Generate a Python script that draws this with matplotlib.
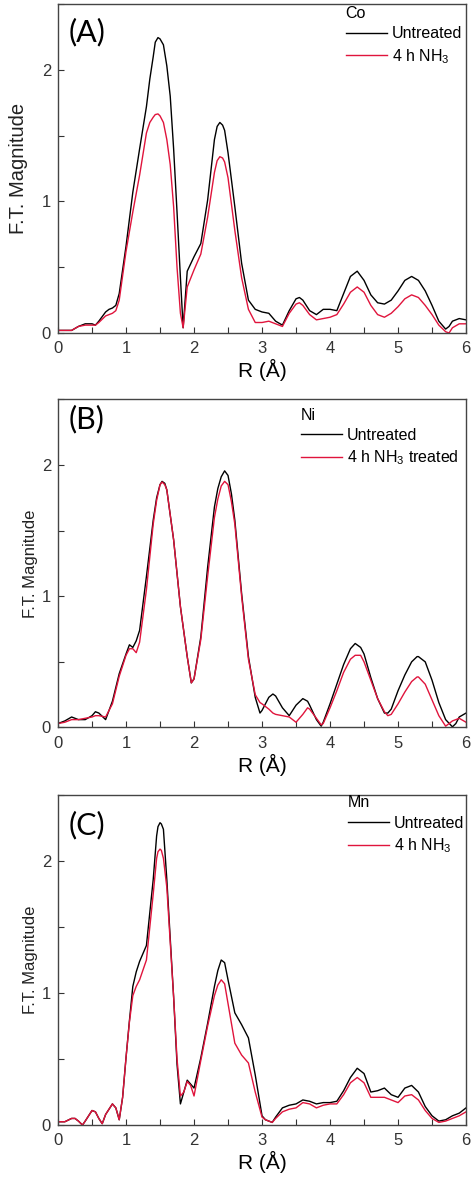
import matplotlib
matplotlib.use("Agg")
import matplotlib.pyplot as plt
from matplotlib.ticker import MultipleLocator

plt.rcParams['font.family'] = ['Liberation Sans', 'DejaVu Sans']
plt.rcParams['mathtext.default'] = 'regular'

# (A) Co
r_co = [0, 0.2, 0.3, 0.4, 0.5, 0.55, 0.6, 0.7, 0.75, 0.8, 0.85, 0.9, 1.0, 1.1, 1.2, 1.3, 1.35,
        1.4, 1.43, 1.47, 1.5, 1.55, 1.6, 1.65, 1.7, 1.75, 1.8, 1.84, 1.9, 2.0, 2.1, 2.2, 2.3,
        2.34, 2.38, 2.42, 2.45, 2.5, 2.6, 2.7, 2.8, 2.9, 3.0, 3.1, 3.2, 3.3, 3.4, 3.5, 3.55,
        3.6, 3.7, 3.8, 3.9, 4.0, 4.1, 4.2, 4.3, 4.4, 4.5, 4.6, 4.7, 4.8, 4.9, 5.0, 5.1, 5.2,
        5.3, 5.4, 5.5, 5.6, 5.7, 5.75, 5.8, 5.9, 6.0]
co_untreated = [0.02, 0.02, 0.05, 0.07, 0.07, 0.06, 0.09, 0.16, 0.18, 0.19, 0.21, 0.30, 0.66,
                1.07, 1.40, 1.72, 1.93, 2.10, 2.21, 2.245, 2.235, 2.19, 2.03, 1.80, 1.40, 0.92,
                0.42, 0.04, 0.47, 0.58, 0.68, 1.01, 1.47, 1.57, 1.60, 1.58, 1.54, 1.37, 0.96,
                0.53, 0.25, 0.18, 0.16, 0.15, 0.09, 0.06, 0.17, 0.26, 0.27, 0.25, 0.17, 0.14,
                0.18, 0.18, 0.17, 0.30, 0.43, 0.47, 0.40, 0.29, 0.23, 0.22, 0.25, 0.32, 0.40,
                0.43, 0.40, 0.32, 0.21, 0.09, 0.03, 0.05, 0.09, 0.11, 0.10]
co_nh3 = [0.02, 0.02, 0.05, 0.06, 0.06, 0.06, 0.08, 0.13, 0.14, 0.15, 0.17, 0.25, 0.62, 0.92,
          1.20, 1.52, 1.60, 1.64, 1.66, 1.665, 1.65, 1.60, 1.47, 1.28, 0.96, 0.50, 0.15, 0.04,
          0.35, 0.48, 0.60, 0.88, 1.22, 1.31, 1.34, 1.33, 1.30, 1.18, 0.78, 0.42, 0.18, 0.08,
          0.08, 0.09, 0.07, 0.05, 0.15, 0.22, 0.23, 0.21, 0.14, 0.10, 0.11, 0.12, 0.14, 0.22,
          0.31, 0.35, 0.31, 0.21, 0.14, 0.12, 0.15, 0.20, 0.26, 0.29, 0.27, 0.21, 0.14, 0.06,
          0.01, 0.00, 0.04, 0.07, 0.07]

# (B) Ni
r_ni = [0, 0.1, 0.2, 0.3, 0.4, 0.5, 0.55, 0.6, 0.7, 0.8, 0.9, 1.0, 1.05, 1.1, 1.15, 1.2, 1.3,
        1.4, 1.45, 1.5, 1.53, 1.57, 1.6, 1.7, 1.8, 1.9, 1.96, 2.0, 2.1, 2.2, 2.3, 2.35, 2.4,
        2.45, 2.5, 2.55, 2.6, 2.7, 2.8, 2.9, 2.97, 3.0, 3.1, 3.16, 3.2, 3.3, 3.4, 3.5, 3.6,
        3.67, 3.7, 3.8, 3.87, 3.9, 4.0, 4.1, 4.2, 4.3, 4.37, 4.45, 4.5, 4.6, 4.7, 4.8, 4.85,
        4.9, 5.0, 5.1, 5.2, 5.28, 5.3, 5.4, 5.5, 5.6, 5.7, 5.8, 5.85, 5.9, 6.0]
ni_untreated = [0.03, 0.05, 0.08, 0.06, 0.06, 0.09, 0.12, 0.11, 0.06, 0.20, 0.41, 0.56, 0.63,
                0.61, 0.66, 0.74, 1.15, 1.58, 1.75, 1.85, 1.875, 1.86, 1.81, 1.43, 0.92, 0.54,
                0.34, 0.37, 0.69, 1.22, 1.68, 1.82, 1.91, 1.955, 1.92, 1.78, 1.58, 1.02, 0.54,
                0.23, 0.11, 0.13, 0.23, 0.255, 0.24, 0.15, 0.09, 0.17, 0.22, 0.20, 0.17, 0.06,
                0.01, 0.04, 0.18, 0.33, 0.48, 0.60, 0.64, 0.61, 0.56, 0.38, 0.22, 0.11, 0.11,
                0.14, 0.28, 0.40, 0.50, 0.54, 0.54, 0.50, 0.36, 0.19, 0.06, 0.005, 0.03, 0.08,
                0.11]
ni_nh3 = [0.03, 0.04, 0.06, 0.06, 0.07, 0.08, 0.09, 0.09, 0.08, 0.18, 0.39, 0.55, 0.60, 0.60,
          0.57, 0.65, 1.05, 1.55, 1.73, 1.85, 1.87, 1.85, 1.81, 1.43, 0.92, 0.54, 0.34, 0.37,
          0.67, 1.15, 1.60, 1.74, 1.84, 1.875, 1.85, 1.72, 1.55, 1.00, 0.52, 0.25, 0.19, 0.18,
          0.14, 0.11, 0.10, 0.09, 0.08, 0.04, 0.10, 0.15, 0.14, 0.07, 0.02, 0.03, 0.15, 0.28,
          0.42, 0.52, 0.55, 0.55, 0.50, 0.36, 0.22, 0.12, 0.09, 0.10, 0.18, 0.27, 0.35, 0.385,
          0.385, 0.33, 0.21, 0.09, 0.01, 0.05, 0.06, 0.07, 0.04]

# (C) Mn
r_mn = [0, 0.1, 0.2, 0.25, 0.3, 0.36, 0.4, 0.5, 0.55, 0.6, 0.65, 0.7, 0.8, 0.85, 0.9, 0.95,
        1.0, 1.05, 1.1, 1.15, 1.2, 1.3, 1.4, 1.45, 1.47, 1.5, 1.52, 1.55, 1.6, 1.7, 1.75, 1.8,
        1.85, 1.9, 1.95, 2.0, 2.1, 2.2, 2.3, 2.35, 2.4, 2.45, 2.5, 2.6, 2.7, 2.8, 2.9, 3.0,
        3.05, 3.1, 3.15, 3.2, 3.3, 3.4, 3.5, 3.6, 3.7, 3.8, 3.9, 4.0, 4.1, 4.2, 4.3, 4.4, 4.5,
        4.6, 4.7, 4.8, 4.9, 5.0, 5.1, 5.2, 5.3, 5.4, 5.5, 5.6, 5.7, 5.8, 5.9, 6.0]
mn_untreated = [0.025, 0.025, 0.05, 0.05, 0.03, 0.0, 0.03, 0.11, 0.10, 0.05, 0.01, 0.08, 0.16,
                0.13, 0.04, 0.21, 0.51, 0.79, 1.05, 1.16, 1.24, 1.36, 1.86, 2.19, 2.26, 2.29,
                2.28, 2.24, 1.86, 0.97, 0.46, 0.16, 0.25, 0.34, 0.31, 0.28, 0.51, 0.77, 1.05,
                1.17, 1.25, 1.23, 1.10, 0.85, 0.76, 0.66, 0.38, 0.07, 0.04, 0.03, 0.02, 0.06,
                0.13, 0.15, 0.16, 0.19, 0.18, 0.16, 0.17, 0.17, 0.18, 0.26, 0.36, 0.43, 0.39,
                0.25, 0.26, 0.28, 0.23, 0.21, 0.28, 0.30, 0.25, 0.14, 0.07, 0.03, 0.04, 0.07,
                0.09, 0.13]
mn_nh3 = [0.025, 0.025, 0.05, 0.05, 0.03, 0.0, 0.03, 0.11, 0.10, 0.05, 0.01, 0.08, 0.16, 0.13,
          0.04, 0.21, 0.51, 0.78, 0.98, 1.05, 1.10, 1.25, 1.75, 2.02, 2.07, 2.09, 2.08, 2.02,
          1.80, 0.97, 0.50, 0.22, 0.25, 0.33, 0.30, 0.22, 0.49, 0.75, 0.98, 1.06, 1.10, 1.07,
          0.92, 0.62, 0.53, 0.47, 0.25, 0.06, 0.04, 0.03, 0.02, 0.05, 0.10, 0.12, 0.13, 0.17,
          0.16, 0.13, 0.15, 0.16, 0.16, 0.23, 0.32, 0.36, 0.32, 0.21, 0.21, 0.21, 0.19, 0.17,
          0.22, 0.23, 0.19, 0.11, 0.05, 0.02, 0.03, 0.05, 0.07, 0.10]

panels = [
    # r, untreated, nh3, tag, element, nh3 label, axes rect, ylabel size, ylabel pad, tag y, legend x, legend y
    (r_co, co_untreated, co_nh3, '(A)', 'Co', '4 h NH$_3$', [0.1224, 0.7192, 0.8608, 0.2774], 14.5, 10, 0.915, 0.705, 0.995),
    (r_ni, ni_untreated, ni_nh3, '(B)', 'Ni', '4 h NH$_3$ treated', [0.1224, 0.3866, 0.8608, 0.2767], 12, 3, 0.94, 0.595, 0.975),
    (r_mn, mn_untreated, mn_nh3, '(C)', 'Mn', '4 h NH$_3$', [0.1224, 0.0514, 0.8608, 0.2783], 12, 3, 0.91, 0.71, 1.0),
]

ROOD = '#e0143c'

fig = plt.figure(figsize=(4.74, 11.86), dpi=100)

for r, unt, nh3, tag, elem, nh3_label, rect, ylsize, ylpad, tag_y, leg_x, leg_y in panels:
    ax = fig.add_axes(rect)
    ax.plot(r, unt, color='black', lw=1.0, label='Untreated')
    ax.plot(r, nh3, color=ROOD, lw=1.0, label=nh3_label)
    ax.set_xlim(0, 6)
    ax.set_ylim(0, 2.5)
    ax.xaxis.set_major_locator(MultipleLocator(1))
    ax.xaxis.set_minor_locator(MultipleLocator(0.5))
    ax.yaxis.set_major_locator(MultipleLocator(1))
    ax.yaxis.set_minor_locator(MultipleLocator(0.5))
    ax.tick_params(which='both', direction='in', length=4, width=0.8, color='#333333',
                   labelsize=12, labelcolor='#333333', top=False, right=False)
    ax.tick_params(axis='x', pad=6)
    ax.tick_params(axis='y', pad=5)
    for s in ax.spines.values():
        s.set_color('#444444')
        s.set_linewidth(1.0)
    ax.set_xlabel('R (Å)', fontsize=15, labelpad=2)
    ax.set_ylabel('F.T. Magnitude', fontsize=ylsize, color='#222222', labelpad=ylpad)
    ax.text(0.025, tag_y, tag, transform=ax.transAxes, fontsize=22, family='Lato',
            va='center', ha='left')
    leg = ax.legend(loc='upper left', bbox_to_anchor=(leg_x, leg_y), frameon=False,
                    title=elem, alignment='left', fontsize=11.5, title_fontsize=11.5,
                    handlelength=2.6, handletextpad=0.3, labelspacing=0.35,
                    borderpad=0, borderaxespad=0)
    leg._legend_box.sep = 4

fig.savefig('out.png', dpi=100)
